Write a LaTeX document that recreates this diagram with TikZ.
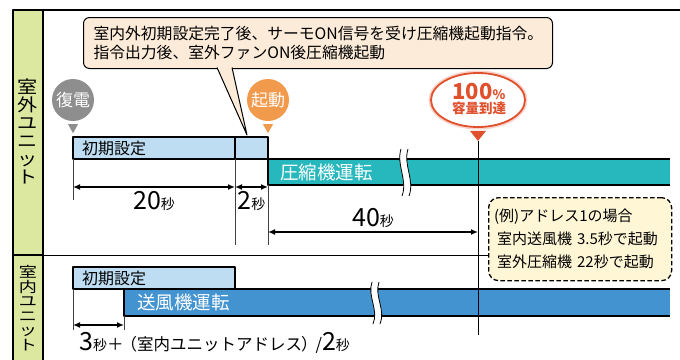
\documentclass[tikz,border=0pt]{standalone}
\usepackage{fontspec}
\setmainfont{Noto Sans CJK JP}
\usetikzlibrary{arrows.meta,positioning,calc,shapes.geometric}
\definecolor{bandgreen}{HTML}{DCE7A0}
\definecolor{calloutbg}{HTML}{FCEBD8}
\definecolor{restoregray}{HTML}{8E8E8E}
\definecolor{startorange}{HTML}{F29A4C}
\definecolor{fullred}{HTML}{E0502C}
\definecolor{initblue}{HTML}{BEDDF3}
\definecolor{compteal}{HTML}{27B8BE}
\definecolor{fanblue}{HTML}{4393D0}
\definecolor{notebg}{HTML}{FFF6D6}
\newcommand{\fs}[2]{\fontsize{#1}{#2}\selectfont}

\begin{document}
\begin{tikzpicture}[x=1pt, y=-1pt, line join=round,
    bar/.style={draw, line width=1.6pt, anchor=north west, inner sep=0pt, outer sep=0pt, minimum height=22pt},
    run/.style={fill=#1, anchor=north west, inner sep=0pt, outer sep=0pt, minimum height=26pt},
    barlabel/.style={font=\fs{16}{16}, inner sep=0pt},
    runlabel/.style={font=\fs{18.5}{18.5}, text=white, inner sep=0pt},
    pinmark/.style={circle, fill=#1, text=white, font=\fs{17}{17}, minimum size=42pt, inner sep=0pt},
    ext/.style={line width=0.6pt, draw=black!75},
    dim/.style={line width=1.5pt, {Latex[length=7pt,width=6pt]}-{Latex[length=7pt,width=6pt]}},
    sec/.style={font=\fs{25}{25}, inner sep=0pt},
    brk/.style={line width=0.8pt}]
\useasboundingbox (0,0) rectangle (680,359);

% frame and side band
\fill[bandgreen] (13,10) rectangle (43,365);
\draw[line width=2.4pt] (13,365) -- (13,10) -- (680,10);
\draw[line width=2.4pt] (43,10) -- (43,365);
\draw[line width=1.6pt] (13,255) -- (43,255);
\draw[line width=0.7pt] (43,255) -- (560,255);
\node[align=center, font=\fs{17.5}{18}, inner sep=0pt, xscale=1.15, transform shape] (outunit) at (28,131) {室\\外\\ユ\\ニ\\ッ\\ト};
\node[align=center, font=\fs{14.5}{14.5}, inner sep=0pt, xscale=1.25, transform shape] (inunit) at (28,308) {室\\内\\ユ\\ニ\\ッ\\ト};

% callout
\node[draw, line width=1pt, rounded corners=6pt, fill=calloutbg, anchor=north west,
  minimum width=469pt, minimum height=51pt, text width=449pt, inner xsep=10pt,
  align=left, font=\fs{15.8}{19}] (callout) at (83,17)
  {室内外初期設定完了後、サーモON信号を受け圧縮機起動指令。\\指令出力後、室外ファンON後圧縮機起動};
\coordinate (calltip) at (247,135);
\draw[line width=1pt, fill=calloutbg] (217,67.5) -- (calltip) -- (232,67.5);
\fill[calloutbg] (217.8,65.5) rectangle (231.2,69);

% markers
\node[pinmark=restoregray] (restore) at (73,100) {復電};
\fill[restoregray] ($(restore.south)+(-5,3)$) -- ++(10,0) -- ++(-5,9) -- cycle;
\node[pinmark=startorange] (start) at (268,100) {起動};
\fill[startorange] ($(start.south)+(-5,3)$) -- ++(10,0) -- ++(-5,9) -- cycle;
\node[ellipse, draw=fullred, line width=1.8pt, fill=white, minimum width=94pt, minimum height=54pt,
  inner sep=0pt, preaction={draw=fullred!25, line width=5pt}] (full) at (478,100) {};
\node[text=fullred, font=\bfseries\fs{22}{22}, inner sep=0pt] (fullpct) at (479,92) {100\fs{13}{13}\%};
\node[text=fullred, font=\bfseries\fs{13.5}{14}, inner sep=0pt, below=1.5pt of fullpct] (fulltxt) {容量到達};
\fill[fullred] ($(full.south)+(-8,3)$) -- ++(16,0) -- ++(-8,10) -- cycle;
\coordinate (fulltip) at ($(full.south)+(0,13)$);
\coordinate (fullend) at (478,335);

% outdoor unit
\node[bar, fill=initblue, minimum width=162pt] (oinit) at (73,137) {};
\node[bar, fill=initblue, minimum width=33pt, right=0pt of oinit] (owait) {};
\node[barlabel, right=9pt of oinit.west] (oinitlbl) {初期設定};
\node[run=compteal, minimum width=402pt] (comp) at (owait.south east) {};
\draw[line width=1.6pt] (comp.north east) -- (comp.north west) -- (comp.south west) -- (comp.south east);
\node[runlabel, right=12pt of comp.west] (complbl) {圧縮機運転};
\fill[white] (401,149) .. controls (396,165) and (408,180) .. (402,196) -- (409,196) .. controls (415,180) and (403,165) .. (408,149) -- cycle;
\draw[brk] (401,149) .. controls (396,165) and (408,180) .. (402,196);
\draw[brk] (408,149) .. controls (403,165) and (415,180) .. (409,196);

% indoor unit
\node[bar, fill=initblue, minimum width=162pt] (iinit) at (73,267) {};
\node[barlabel, right=9pt of iinit.west] (iinitlbl) {初期設定};
\node[run=fanblue, minimum width=546pt, minimum height=27pt] (fan) at (124,289) {};
\draw[line width=1.6pt] (fan.north east) -- (fan.north west) -- (fan.south west) -- (fan.south east);
\node[runlabel, right=13pt of fan.west] (fanlbl) {送風機運転};
\fill[white] (372,282) .. controls (367,296) and (379,310) .. (373,324) -- (380,324) .. controls (386,310) and (374,296) .. (379,282) -- cycle;
\draw[brk] (372,282) .. controls (367,296) and (379,310) .. (373,324);
\draw[brk] (379,282) .. controls (374,296) and (386,310) .. (380,324);

\draw[line width=0.8pt] (fulltip) -- (fullend);

% times
\coordinate (e0) at (73,200);
\coordinate (e20) at (235,245);
\coordinate (e22) at (268,245);
\draw[ext] (oinit.south west) -- (e0);
\draw[ext] (owait.south west) -- (e20);
\draw[ext] (comp.south west) -- (e22);
\coordinate (d0) at (73,187);
\coordinate (d20) at (235,187);
\coordinate (d22) at (268,187);
\coordinate (d40a) at (268,232);
\coordinate (d40b) at (478,232);
\draw[dim] (d0) -- node[sec, below=4pt] (sec20) {20\fs{14}{14}秒} (d20);
\draw[dim] (d20) -- node[sec, below=4pt] (sec2) {2\fs{14}{14}秒} (d22);
\draw[dim] (d40a) -- node[sec, above=4pt] (sec40) {40\fs{14}{14}秒} (d40b);

\coordinate (i0) at (73,330);
\coordinate (i3) at (124,330);
\draw[ext] (iinit.south west) -- (i0);
\draw[ext] (fan.south west) -- (i3);
\coordinate (ia) at (73,325);
\coordinate (ib) at (124,325);
\draw[dim] (ia) -- (ib);
\node[sec, anchor=west] (secaddr) at (79,343)
  {3\fs{14}{14}秒\fs{16.5}{16.5}＋\kern-3pt（室内ユニットアドレス\kern-1pt）\kern-2pt/\fs{25}{25}2\fs{14}{14}秒};

% example note
\node[draw, dash pattern=on 4.5pt off 2.5pt, line width=1.3pt, rounded corners=10pt, fill=notebg,
  anchor=north west, minimum width=183pt, minimum height=83pt, text width=172pt, inner xsep=5.5pt,
  align=left, font=\fs{15}{23}] (note) at (488,197)
  {(例)アドレス1の場合\\\hspace*{3pt}室内送風機 3.5秒で起動\\\hspace*{3pt}室外圧縮機 22秒で起動};
\end{tikzpicture}
\end{document}
